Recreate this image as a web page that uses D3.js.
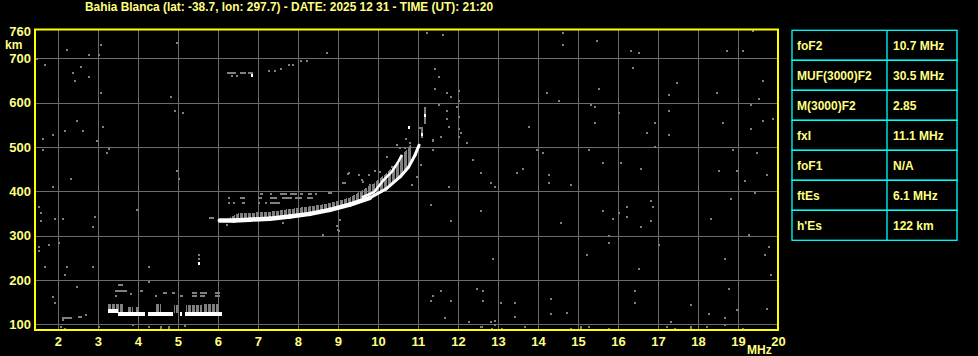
<!DOCTYPE html>
<html>
<head>
<meta charset="utf-8">
<script src="https://cdn.jsdelivr.net/npm/d3@7"></script>
<style>
  body { margin: 0; background: #000; }
  svg { display: block; }
</style>
</head>
<body>
<script>
// ---- data ----
const title = "Bahia Blanca (lat: -38.7, lon: 297.7) - DATE: 2025 12 31 - TIME (UT): 21:20";
const freqTicks = [2, 3, 4, 5, 6, 7, 8, 9, 10, 11, 12, 13, 14, 15, 16, 17, 18, 19, 20];
const heightGrid = [100, 200, 300, 400, 500, 600, 700];
const heightLabels = [100, 200, 300, 400, 500, 600, 700, 760];
const paramNames = ["foF2", "MUF(3000)F2", "M(3000)F2", "fxI", "foF1", "ftEs", "h'Es"];
const paramValues = ["10.7 MHz", "30.5 MHz", "2.85", "11.1 MHz", "N/A", "6.1 MHz", "122 km"];

// F-layer trace [MHz, km]
const fTrace = [[6.05, 334], [6.4, 334], [6.8, 336], [7.3, 338], [7.8, 343], [8.3, 349], [8.8, 358],
  [9.3, 370], [9.8, 385], [10.2, 405], [10.56, 433], [10.77, 455], [10.93, 482], [11.03, 504]];
const fTraceUpper = [[9.6, 386], [9.9, 398], [10.14, 425], [10.35, 444], [10.5, 465], [10.6, 482]];
// gray echo band [MHz, lower km, upper km]
const fEchoBand = [[6.3, 334, 340], [6.5, 335, 350], [6.9, 336, 352], [7.3, 338, 354], [7.8, 343, 360],
  [8.3, 349, 366], [8.8, 358, 373], [9.3, 370, 386], [9.6, 378, 402], [9.9, 390, 418], [10.2, 405, 440],
  [10.5, 428, 468], [10.7, 448, 492], [10.85, 470, 508]];
// gray dashes [f1, f2, km]
const fEchoDash = [
  [7.06, 7.13, 394], [7.31, 7.35, 394], [7.56, 7.72, 394], [7.81, 7.97, 394], [8.06, 8.13, 394], [8.26, 8.36, 394], [8.43, 8.48, 394], [8.76, 8.86, 396],
  [6.26, 6.31, 384], [6.56, 6.68, 384], [7.01, 7.1, 384], [7.31, 7.47, 384], [7.6, 7.85, 384], [7.93, 8.1, 384], [8.22, 8.39, 384],
  [6.26, 6.31, 374], [6.38, 6.43, 374], [6.6, 6.68, 374], [7.01, 7.06, 374], [7.18, 7.22, 374], [7.31, 7.56, 374],
  [5.77, 5.9, 340], [6.22, 6.45, 666], [6.55, 6.7, 666], [6.75, 6.89, 666]
];
// near-vertical echo [MHz, km low, km high]
const fStreak = [[11.17, 552, 590], [11.1, 520, 545]];
const whiteDots = [[11.17, 572], [11.1, 530], [5.52, 239], [6.85, 663], [10.77, 546]];

// E-layer
const eTrace = [[3.26, 3.51, 130], [3.51, 4.18, 123], [4.26, 4.88, 123], [5.06, 5.11, 124], [5.18, 6.1, 123]];
const eEchoBlock = [[3.26, 3.62, 128, 146], [3.75, 3.88, 128, 140], [3.95, 4.05, 128, 138], [4.45, 4.58, 124, 146],
  [4.9, 5.0, 126, 144], [5.2, 5.6, 126, 144], [5.65, 6.05, 126, 146]];
const eEchoDash = [[3.43, 3.72, 174], [3.51, 3.64, 189], [3.43, 3.46, 163], [3.81, 3.84, 168], [4.06, 4.13, 175],
  [4.26, 4.29, 196], [4.43, 4.46, 164], [4.63, 4.73, 171], [4.85, 4.93, 171], [5.06, 5.13, 164],
  [5.35, 5.48, 171], [5.55, 5.72, 171], [5.35, 5.48, 164], [5.55, 5.68, 164], [5.93, 6.06, 171], [5.93, 6.06, 164],
  [2.1, 2.35, 114], [2.51, 2.61, 117], [2.68, 2.73, 120], [2.1, 2.12, 110]];

// scattered noise [MHz, km]
const noise = [
  [2.23, 719], [3.07, 731], [2.78, 708], [3.03, 708], [4.97, 734], [1.47, 699], [1.68, 686], [2.58, 680], [2.37, 667],
  [2.77, 658], [2.43, 649], [3.07, 622], [4.82, 613], [4.93, 582], [5.13, 577], [2.48, 558], [3.13, 545], [2.18, 537],
  [2.64, 537], [1.88, 527], [1.63, 519], [2.97, 514], [3.28, 496], [3.23, 487], [1.63, 492], [4.98, 446], [5.03, 428],
  [2.33, 428], [1.88, 410], [1.53, 365], [1.58, 352], [3.97, 358], [1.93, 338], [2.13, 338], [2.93, 343], [1.58, 334],
  [2.88, 320], [1.53, 275], [1.53, 266], [1.78, 279], [2.03, 284], [1.68, 230], [2.23, 230], [2.18, 212], [2.88, 230],
  [4.28, 230], [5.52, 257], [5.52, 248], [2.48, 185], [1.88, 162], [1.93, 149], [8.63, 302], [8.97, 321], [9.03, 311],
  [6.22, 325], [7.63, 329], [6.35, 660], [6.47, 660], [7.28, 672], [7.43, 672], [7.58, 677], [7.78, 686], [7.88, 686],
  [8.08, 693], [8.23, 695], [8.73, 713],
  [11.22, 758], [11.62, 753], [14.62, 758], [14.62, 731], [15.48, 740], [16.33, 717], [16.53, 713], [18.72, 717],
  [19.12, 717], [19.37, 762], [11.43, 677], [11.53, 658], [11.43, 631], [11.72, 622], [11.83, 613], [12.03, 627],
  [12.03, 604], [11.53, 595], [11.97, 591], [12.03, 568], [11.72, 582], [11.72, 564], [11.78, 546], [12.03, 541],
  [12.08, 532], [12.03, 523], [11.58, 523], [11.38, 514], [12.23, 510], [11.38, 493], [11.08, 459], [10.97, 433],
  [14.22, 622], [14.52, 604], [15.52, 631], [16.37, 679], [17.47, 645], [17.27, 618], [18.47, 622], [19.62, 649],
  [19.52, 609], [19.32, 595], [15.33, 595], [15.43, 591], [16.03, 577], [17.27, 582], [13.77, 546], [15.43, 555],
  [16.93, 555], [16.73, 532], [17.27, 528], [18.62, 555], [19.32, 541], [19.62, 559], [19.87, 564], [16.93, 501],
  [13.98, 492], [14.12, 487], [15.28, 492], [12.38, 471], [15.63, 464], [16.08, 464], [16.57, 451], [18.87, 492],
  [19.47, 487], [13.47, 442], [13.62, 451], [12.58, 442], [14.28, 437], [14.28, 419], [14.83, 415], [12.83, 419],
  [12.93, 410], [11.77, 410], [18.52, 446], [18.97, 446], [19.18, 424], [19.72, 437], [19.42, 397], [18.82, 383],
  [11.33, 370], [12.58, 356], [11.83, 334], [14.57, 329], [15.63, 356], [15.88, 338], [16.03, 352], [16.23, 365],
  [16.23, 343], [16.83, 379], [16.87, 365], [16.83, 334], [16.57, 320], [18.33, 338], [15.77, 299], [15.77, 284],
  [15.23, 257], [17.02, 279], [19.27, 302], [19.77, 275], [19.67, 256], [19.83, 212], [18.67, 248], [12.87, 248],
  [16.53, 225], [11.38, 164], [11.57, 176], [11.33, 153], [11.83, 153], [12.47, 180], [12.63, 176], [12.63, 153],
  [13.07, 149], [13.42, 149], [13.42, 117], [14.33, 158], [14.33, 122], [14.73, 126], [11.67, 113], [16.43, 176],
  [16.43, 149], [17.82, 144], [18.27, 122], [18.67, 113], [18.77, 180], [18.97, 131], [19.72, 135],
  [12.59, 94], [12.83, 104], [12.93, 108], [12.93, 99], [12.84, 90], [13.11, 90], [13.67, 94], [14.83, 90],
  [15.08, 94], [15.08, 90], [15.28, 94], [15.78, 90], [17.22, 94], [17.32, 104], [17.42, 90], [17.82, 94], [17.82, 90],
  [18.22, 94], [18.68, 99], [19.13, 90], [2.08, 94], [2.18, 90], [3.03, 94], [3.87, 99], [4.27, 94], [4.58, 94],
  [4.58, 90], [4.78, 94], [4.78, 90], [5.18, 97], [12.27, 106], [12.57, 94],
  [9.27, 441], [9.52, 437], [9.77, 437], [9.93, 445], [9.18, 419], [9.64, 422], [9.81, 415],
  [10.71, 519], [10.81, 508], [10.49, 504], [10.56, 497], [10.68, 497], [11.06, 542], [11.37, 516], [11.08, 459],
  [10.35, 455], [10.22, 478], [10.06, 444], [9.6, 426], [9.26, 440], [9.14, 418], [11.33, 369], [10.85, 414],
  [9.06, 335], [9.01, 313]
];

// ---- layout ----
const W = 978, H = 356;
const x = d3.scaleLinear().domain([1.43, 20]).range([35, 778]);
const y = d3.scaleLinear().domain([87, 765]).range([330, 29.5]);
const pale = "#ffff80", gridCol = "#6c6c6c", echoCol = "#808080";
const font = "'Liberation Sans', Arial, sans-serif";

const svg = d3.select("body").append("svg")
  .attr("width", W).attr("height", H)
  .style("background", "#000");

svg.append("text")
  .attr("x", 85).attr("y", 11)
  .attr("textLength", 408).attr("lengthAdjust", "spacingAndGlyphs")
  .style("font-family", font).style("font-size", "12px").style("font-weight", "bold")
  .attr("fill", pale)
  .text(title);

// grid
const grid = svg.append("g").attr("shape-rendering", "crispEdges");
grid.selectAll(".vg").data(freqTicks.filter(d => d < 20)).enter().append("line")
  .attr("x1", d => Math.round(x(d)) + 0.5).attr("x2", d => Math.round(x(d)) + 0.5)
  .attr("y1", y.range()[1]).attr("y2", y.range()[0])
  .attr("stroke", gridCol);
grid.selectAll(".hg").data(heightGrid).enter().append("line")
  .attr("y1", d => Math.round(y(d)) + 0.5).attr("y2", d => Math.round(y(d)) + 0.5)
  .attr("x1", x.range()[0]).attr("x2", x.range()[1])
  .attr("stroke", gridCol);

// stripe pattern for the echo band
const defs = svg.append("defs");
const pat = defs.append("pattern").attr("id", "stripes")
  .attr("patternUnits", "userSpaceOnUse").attr("width", 4).attr("height", 4);
pat.append("rect").attr("width", 3).attr("height", 4).attr("fill", echoCol);

const marks = svg.append("g").attr("shape-rendering", "crispEdges");

marks.selectAll(".noise").data(noise).enter().append("rect")
  .attr("x", d => x(d[0]) - 1).attr("y", d => y(d[1]) - 1)
  .attr("width", 2).attr("height", 2).attr("fill", echoCol);

marks.append("path").datum(fEchoBand)
  .attr("d", d3.area().x(d => x(d[0])).y0(d => y(d[1])).y1(d => y(d[2])))
  .attr("fill", "url(#stripes)");

marks.selectAll(".fdash").data(fEchoDash).enter().append("rect")
  .attr("x", d => x(d[0])).attr("y", d => y(d[2]) - 1)
  .attr("width", d => Math.max(2, x(d[1]) - x(d[0]))).attr("height", 2)
  .attr("fill", echoCol);

marks.selectAll(".streak").data(fStreak).enter().append("rect")
  .attr("x", d => x(d[0]) - 1).attr("y", d => y(d[2]))
  .attr("width", 2).attr("height", d => y(d[1]) - y(d[2]))
  .attr("fill", echoCol);

marks.selectAll(".eblock").data(eEchoBlock).enter().append("rect")
  .attr("x", d => x(d[0])).attr("y", d => y(d[3]))
  .attr("width", d => x(d[1]) - x(d[0])).attr("height", d => y(d[2]) - y(d[3]))
  .attr("fill", "url(#stripes)");

marks.selectAll(".edash").data(eEchoDash).enter().append("rect")
  .attr("x", d => x(d[0])).attr("y", d => y(d[2]) - 1)
  .attr("width", d => Math.max(2, x(d[1]) - x(d[0]))).attr("height", 2)
  .attr("fill", echoCol);

marks.selectAll(".etrace").data(eTrace).enter().append("rect")
  .attr("x", d => x(d[0])).attr("y", d => y(d[2]) - 2)
  .attr("width", d => Math.max(2, x(d[1]) - x(d[0]))).attr("height", 4)
  .attr("fill", "#fff");

// white traces, thicker at the low end
const line = d3.line().x(d => x(d[0])).y(d => y(d[1]));
const tr = svg.append("g");
tr.selectAll(".seg").data(d3.pairs(fTrace)).enter().append("path")
  .attr("d", d => line(d))
  .attr("fill", "none").attr("stroke", "#fff")
  .attr("stroke-linecap", "round")
  .attr("stroke-width", d => d[0][0] < 9.5 ? 4.5 : 3);
tr.append("path").datum(fTraceUpper)
  .attr("d", line).attr("fill", "none").attr("stroke", "#fff").attr("stroke-width", 2.5);

marks.selectAll(".wd").data(whiteDots).enter().append("rect")
  .attr("x", d => x(d[0]) - 1).attr("y", d => y(d[1]) - 1)
  .attr("width", 2).attr("height", 3).attr("fill", "#fff");

// frame
svg.append("rect")
  .attr("x", x.range()[0]).attr("y", y.range()[1])
  .attr("width", x.range()[1] - x.range()[0]).attr("height", y.range()[0] - y.range()[1])
  .attr("fill", "none").attr("stroke", "#ffff00").attr("stroke-width", 2);

// axes
const xAxis = d3.axisBottom(x).tickValues(freqTicks).tickSize(0).tickPadding(7);
const gx = svg.append("g").attr("transform", "translate(0,330)").call(xAxis);
const yAxis = d3.axisLeft(y).tickValues(heightLabels).tickSize(0).tickPadding(4);
const gy = svg.append("g").attr("transform", "translate(35,0)").call(yAxis);
[gx, gy].forEach(g => {
  g.select(".domain").remove();
  g.selectAll("text").attr("fill", pale)
    .style("font-family", font).style("font-size", "13px").style("font-weight", "bold");
});

svg.append("text").attr("x", 5).attr("y", 48.5)
  .attr("fill", pale).style("font-family", font).style("font-size", "12px").style("font-weight", "bold")
  .text("km");
svg.append("text").attr("x", 747).attr("y", 354)
  .attr("fill", pale).style("font-family", font).style("font-size", "12px").style("font-weight", "bold")
  .text("MHz");

// parameter table
const tx = 792, tc = 887, tw = 165, ty = 30.3, rh = 30;
const table = svg.append("g");
table.selectAll(".row").data(paramNames).enter().append("rect")
  .attr("x", tx).attr("y", (d, i) => ty + i * rh)
  .attr("width", tw).attr("height", rh)
  .attr("fill", "none").attr("stroke", "#00ffff").attr("stroke-width", 1.3);
table.append("line")
  .attr("x1", tc).attr("x2", tc).attr("y1", ty).attr("y2", ty + paramNames.length * rh)
  .attr("stroke", "#00ffff").attr("stroke-width", 1.3);
table.selectAll(".pn").data(paramNames).enter().append("text")
  .attr("x", tx + 5).attr("y", (d, i) => ty + i * rh + 19.5)
  .attr("fill", pale).style("font-family", font).style("font-size", "12px").style("font-weight", "bold")
  .text(d => d);
table.selectAll(".pv").data(paramValues).enter().append("text")
  .attr("x", tc + 6).attr("y", (d, i) => ty + i * rh + 19.5)
  .attr("fill", pale).style("font-family", font).style("font-size", "12px").style("font-weight", "bold")
  .text(d => d);
</script>
</body>
</html>
